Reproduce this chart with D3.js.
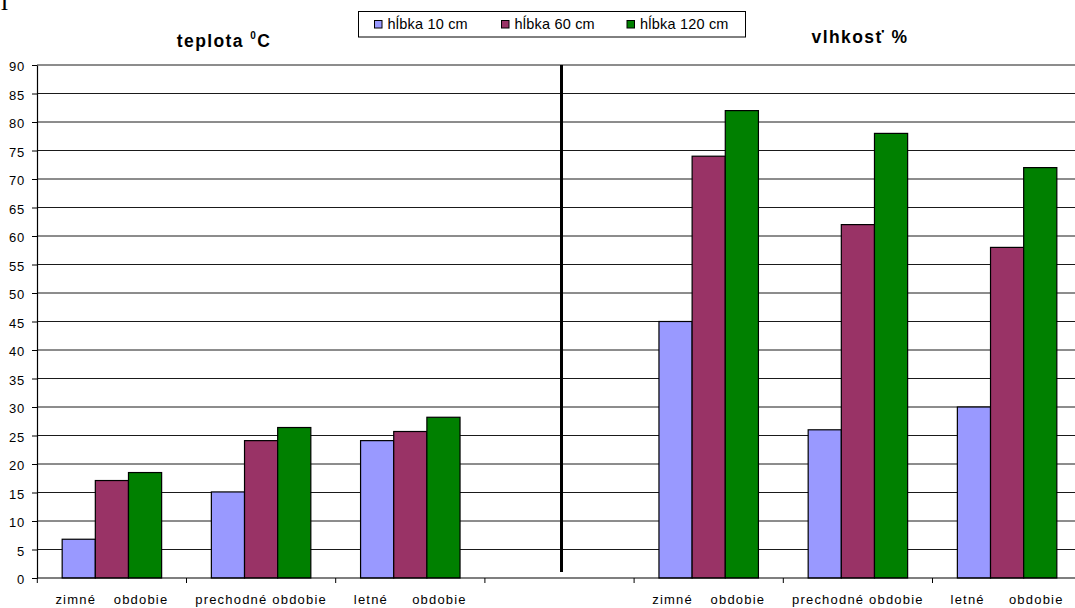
<!DOCTYPE html>
<html>
<head>
<meta charset="utf-8">
<script src="https://cdn.jsdelivr.net/npm/d3@7"></script>
<style>
  html, body { margin: 0; padding: 0; background: #fff; }
  svg { display: block; font-family: Arial, "Liberation Sans", sans-serif; }
</style>
</head>
<body>
<svg id="chart" width="1075" height="608"></svg>
<script>
// Seasons shown along the x axis (same three for both panels)
const periods = ["zimné obdobie", "prechodné obdobie", "letné obdobie"];
// Soil depths (series)
const depths = ["hĺbka 10 cm", "hĺbka 60 cm", "hĺbka 120 cm"];
const depthColors = ["#9999FF", "#993366", "#008000"];

// Soil temperature, °C
const teplota10 = [6.8, 15.1, 24.1];
const teplota60 = [17.1, 24.1, 25.7];
const teplota120 = [18.5, 26.4, 28.2];

// Soil moisture, %
const vlhkost10 = [45, 26, 30];
const vlhkost60 = [74, 62, 58];
const vlhkost120 = [82, 78, 72];

// Value axis ticks
const yTicks = [0, 5, 10, 15, 20, 25, 30, 35, 40, 45, 50, 55, 60, 65, 70, 75, 80, 85, 90];

// Panel titles
const titleTeplota = "teplota ";
const titleTeplotaSup = "0";
const titleTeplotaUnit = "C";
const titleVlhkost = "vlhkosť %";

// Build the combined category list: temperature panel, empty slot, moisture panel
const slots = [];
periods.forEach((p, i) => slots.push({ key: "t" + i, label: p, values: [teplota10[i], teplota60[i], teplota120[i]] }));
slots.push({ key: "gap", label: "", values: [] });
periods.forEach((p, i) => slots.push({ key: "v" + i, label: p, values: [vlhkost10[i], vlhkost60[i], vlhkost120[i]] }));

const svg = d3.select("#chart");

const x = d3.scaleBand()
  .domain(slots.map(d => d.key))
  .range([37.3, 1081.7])
  .paddingInner(0)
  .paddingOuter(0);

const xSeries = d3.scaleBand()
  .domain(depths)
  .range([0, x.bandwidth()])
  .paddingInner(0)
  .paddingOuter(0.75);

const y = d3.scaleLinear().domain([0, 90]).range([578, 65]);

// Horizontal gridlines
svg.append("g")
  .selectAll("line")
  .data(yTicks.filter(v => v > 0))
  .join("line")
  .attr("x1", 37).attr("x2", 1075)
  .attr("y1", d => y(d)).attr("y2", d => y(d))
  .attr("stroke", "#1a1a1a").attr("stroke-width", 1);

// Bars
const groups = svg.append("g")
  .selectAll("g")
  .data(slots)
  .join("g")
  .attr("transform", d => `translate(${x(d.key)},0)`);

groups.selectAll("rect")
  .data(d => d.values.map((v, i) => ({ depth: depths[i], value: v, color: depthColors[i] })))
  .join("rect")
  .attr("x", d => xSeries(d.depth))
  .attr("width", xSeries.bandwidth())
  .attr("y", d => y(d.value))
  .attr("height", d => y(0) - y(d.value))
  .attr("fill", d => d.color)
  .attr("stroke", "#000")
  .attr("stroke-width", 1.2);

// Y axis
const yAxis = d3.axisLeft(y).tickValues(yTicks).tickSize(5).tickPadding(7).tickSizeOuter(0);
const yg = svg.append("g").attr("transform", "translate(37,0)").call(yAxis);
yg.select(".domain").attr("stroke", "#000").attr("stroke-width", 1.2);
yg.selectAll(".tick line").attr("stroke", "#000");
yg.selectAll(".tick text")
  .attr("font-family", "Arial, 'Liberation Sans', sans-serif")
  .attr("font-size", 13)
  .attr("letter-spacing", 0.8)
  .attr("fill", "#000")
  .attr("dy", "0.45em");

// X axis baseline and tick marks at category boundaries
svg.append("line")
  .attr("x1", 37).attr("x2", 1075)
  .attr("y1", y(0)).attr("y2", y(0))
  .attr("stroke", "#000").attr("stroke-width", 1.2);
const boundaries = slots.map(d => x(d.key)).concat([x.range()[1]]);
svg.append("g")
  .selectAll("line")
  .data(boundaries)
  .join("line")
  .attr("x1", d => d).attr("x2", d => d)
  .attr("y1", y(0)).attr("y2", y(0) + 5)
  .attr("stroke", "#000");

// Category labels, spread across a fixed width when short
const labelWidth = 113;
const labelY = 604;
const labelG = svg.append("g")
  .attr("font-size", 13)
  .attr("letter-spacing", 1.2)
  .attr("fill", "#000");
slots.filter(d => d.label).forEach(d => {
  const cx = x(d.key) + x.bandwidth() / 2;
  const probe = labelG.append("text").text(d.label);
  const w = probe.node().getComputedTextLength();
  if (w >= labelWidth) {
    probe.attr("x", cx).attr("y", labelY).attr("text-anchor", "middle");
  } else {
    probe.remove();
    const words = d.label.split(" ");
    labelG.append("text").attr("x", cx - labelWidth / 2).attr("y", labelY)
      .attr("text-anchor", "start").text(words[0]);
    labelG.append("text").attr("x", cx + labelWidth / 2).attr("y", labelY)
      .attr("text-anchor", "end").text(words.slice(1).join(" "));
  }
});

// Panel separator
const sepX = x("gap") + x.bandwidth() / 2 + 2;
svg.append("line")
  .attr("x1", sepX).attr("x2", sepX)
  .attr("y1", y(90)).attr("y2", 572)
  .attr("stroke", "#000").attr("stroke-width", 3);

// Panel titles
const t1 = svg.append("text")
  .attr("x", 224).attr("y", 46.7)
  .attr("text-anchor", "middle")
  .attr("font-weight", "bold")
  .attr("font-size", 17.5)
  .attr("letter-spacing", 1.4)
  .attr("fill", "#000");
t1.append("tspan").text(titleTeplota);
t1.append("tspan").attr("font-size", 10).attr("dy", -8).text(titleTeplotaSup);
t1.append("tspan").attr("dy", 8).text(titleTeplotaUnit);

svg.append("text")
  .attr("x", 860).attr("y", 43.3)
  .attr("text-anchor", "middle")
  .attr("font-weight", "bold")
  .attr("font-size", 17.5)
  .attr("letter-spacing", 1.4)
  .attr("fill", "#000")
  .text(titleVlhkost);

// Legend
const legend = svg.append("g");
legend.append("rect")
  .attr("x", 358.5).attr("y", 11.5)
  .attr("width", 387).attr("height", 25.5)
  .attr("fill", "#fff").attr("stroke", "#000").attr("stroke-width", 1);
const legendX = [374.5, 501.5, 627];
const items = legend.selectAll("g.item")
  .data(depths)
  .join("g")
  .attr("class", "item")
  .attr("transform", (d, i) => `translate(${legendX[i]},0)`);
items.append("rect")
  .attr("x", 0).attr("y", 20.5)
  .attr("width", 7.5).attr("height", 7.5)
  .attr("fill", (d, i) => depthColors[i])
  .attr("stroke", "#000").attr("stroke-width", 1);
items.append("text")
  .attr("x", 13).attr("y", 29.3)
  .attr("font-size", 14.5)
  .attr("letter-spacing", 0.2)
  .attr("fill", "#000")
  .text(d => d);

// Fragment of a heading cut off at the top edge
svg.append("text")
  .attr("x", 0.5).attr("y", 9.5)
  .attr("font-family", "'Liberation Serif', 'Times New Roman', serif")
  .attr("font-size", 24)
  .attr("fill", "#000")
  .text("I");
</script>
</body>
</html>
